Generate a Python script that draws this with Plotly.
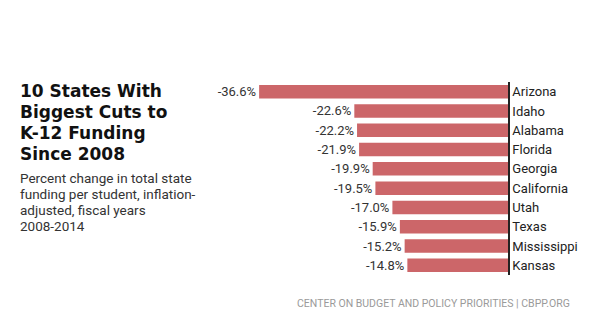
import plotly.graph_objects as go

states = ["Arizona", "Idaho", "Alabama", "Florida", "Georgia", "California",
          "Utah", "Texas", "Mississippi", "Kansas"]
values = [-36.6, -22.6, -22.2, -21.9, -19.9, -19.5, -17.0, -15.9, -15.2, -14.8]

title_lines = ["10 States With", "Biggest Cuts to", "K-12 Funding", "Since 2008"]
subtitle_lines = ["Percent change in total state", "funding per student, inflation-",
                  "adjusted, fiscal years", "2008-2014"]
footer = "CENTER ON BUDGET AND POLICY PRIORITIES | CBPP.ORG"

W, H = 590, 330
BAR_COLOR = "#cc6669"
NARROW = "Liberation Sans Narrow, Roboto, Arial, sans-serif"

fig = go.Figure(go.Bar(
    x=values, y=states, orientation="h",
    marker=dict(color=BAR_COLOR, line=dict(width=0)),
    width=0.7,
    text=[f"{v:.1f}%" for v in values],
    textposition="outside",
    constraintext="none",
    textfont=dict(family=NARROW, size=13, color="#333333"),
    cliponaxis=False,
    hoverinfo="skip",
))

x0_px, x1_px = 236, 508
y_top, y_bot = 82, 275
fig.update_layout(
    width=W, height=H,
    margin=dict(l=0, r=0, t=0, b=0),
    paper_bgcolor="white", plot_bgcolor="white",
    showlegend=False,
    bargap=0.3,
    xaxis=dict(range=[-40, 0], domain=[x0_px / W, x1_px / W], visible=False, fixedrange=True),
    yaxis=dict(domain=[1 - y_bot / H, 1 - y_top / H], autorange="reversed",
               side="right", showline=True, linecolor="#222222", linewidth=1.5,
               showgrid=False, zeroline=False, ticks="", ticklen=0,
               tickfont=dict(family=NARROW, size=13, color="#222222")),
)

ann = []
for i, t in enumerate(title_lines):
    ann.append(dict(text=f"<b>{t}</b>", x=18 / W, y=1 - (91 + i * 21) / H,
                    xref="paper", yref="paper", xanchor="left", yanchor="middle",
                    showarrow=False,
                    font=dict(family="DejaVu Sans, Arial, sans-serif", size=17, color="#111111")))
for i, t in enumerate(subtitle_lines):
    ann.append(dict(text=t, x=18 / W, y=1 - (178 + i * 16) / H,
                    xref="paper", yref="paper", xanchor="left", yanchor="middle",
                    showarrow=False,
                    font=dict(family=NARROW, size=13.5, color="#333333")))
ann.append(dict(text=footer, x=572 / W, y=1 - 303 / H, xref="paper", yref="paper",
                xanchor="right", yanchor="middle", showarrow=False,
                font=dict(family="Roboto, Arial, sans-serif", size=10.5, color="#9a9a9a")))
fig.update_layout(annotations=ann)

fig.write_html("out.html")
